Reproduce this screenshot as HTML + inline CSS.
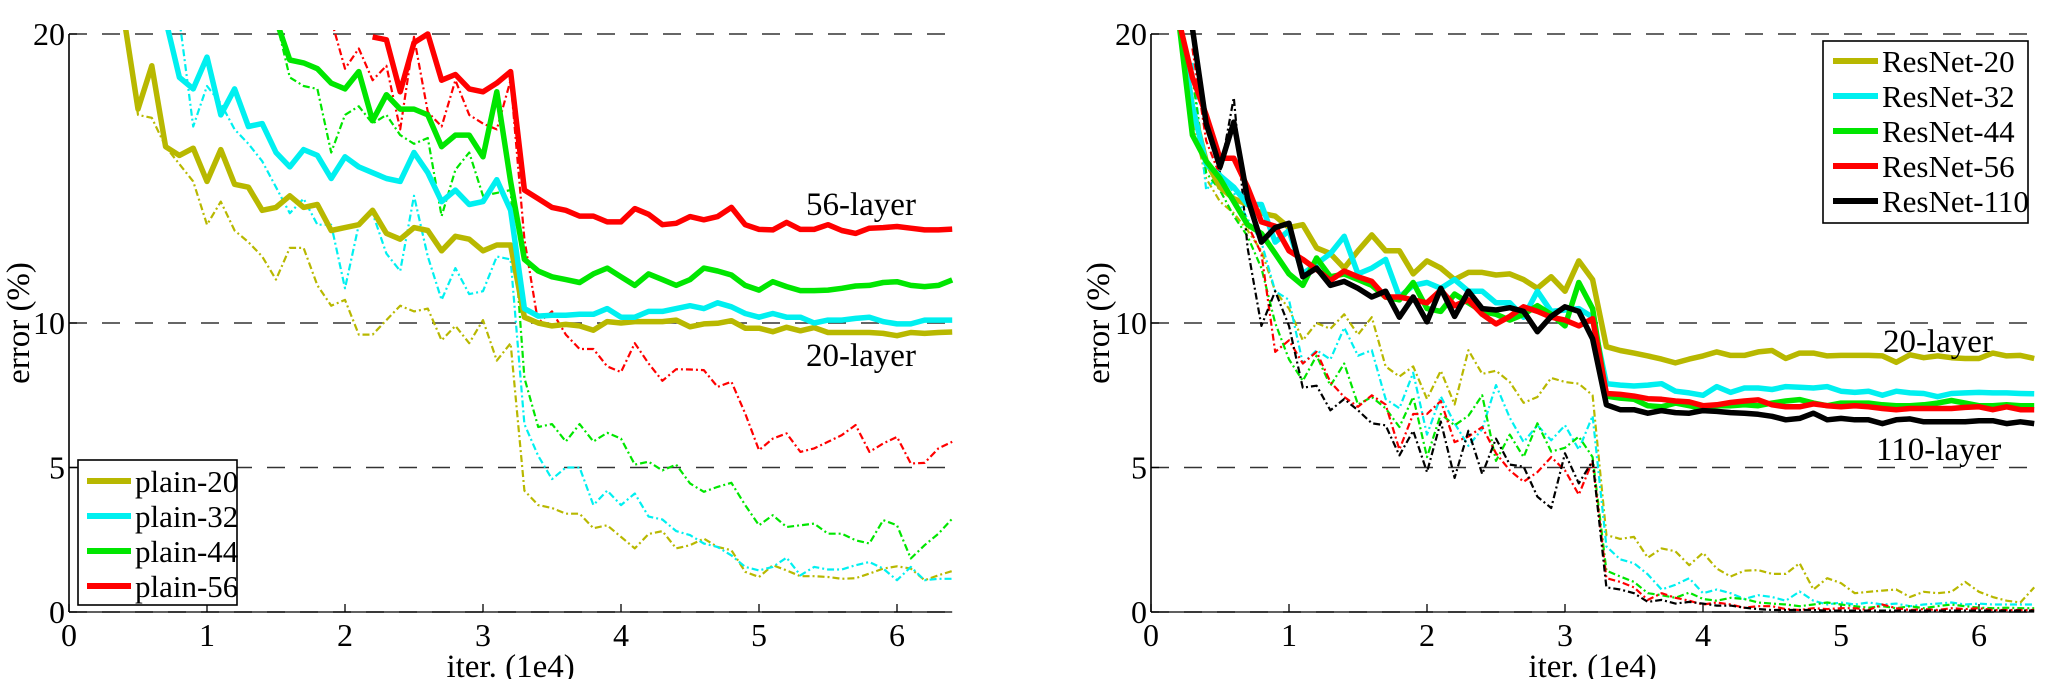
<!DOCTYPE html>
<html><head><meta charset="utf-8"><style>
html,body{margin:0;padding:0;background:#fff;}
svg{display:block;}
svg text{font-family:"Liberation Serif","DejaVu Serif","Times New Roman",Times,serif;}
</style></head><body>
<svg id="fig" width="2048" height="679" viewBox="0 0 2048 679" xmlns="http://www.w3.org/2000/svg"></svg>
<script>
// ---- shared axes data ----
const xTicks = [0,1,2,3,4,5,6];
const yTicks = [0,5,10,20];
const gridVals = [5,10,20];

// ---- left panel (plain) ----
const plainNames = ["plain-20","plain-32","plain-44","plain-56"];
const plainStart = [0.4,0.7,1.5,2.2];
const plain20 = [20.5,17.4,18.9,16.1,15.8,16.05,14.9,16.0,14.8,14.7,13.9,14.0,14.4,14.0,14.1,13.2,13.3,13.4,13.9,13.1,12.9,13.3,13.2,12.5,13.0,12.9,12.5,12.7,12.7,10.2,10.0,9.9,9.95,9.9,9.75,10.05,10.0,10.05,10.05,10.05,10.1,9.87,9.97,9.99,10.08,9.82,9.82,9.7,9.85,9.73,9.84,9.67,9.67,9.67,9.67,9.64,9.56,9.67,9.64,9.67,9.69];
const plain32 = [20.5,18.5,18.1,19.2,17.2,18.1,16.8,16.9,15.9,15.4,16.0,15.8,15.0,15.75,15.4,15.2,15.0,14.9,15.9,15.2,14.2,14.6,14.1,14.2,14.96,13.9,10.5,10.24,10.27,10.27,10.3,10.3,10.5,10.2,10.2,10.4,10.4,10.5,10.6,10.5,10.7,10.56,10.33,10.2,10.33,10.2,10.2,10.0,10.1,10.1,10.16,10.2,10.05,9.97,9.97,10.1,10.1,10.1];
const plain44 = [20.5,19.1,19.0,18.8,18.3,18.1,18.7,17.0,17.9,17.4,17.4,17.2,16.1,16.5,16.5,15.75,18.0,14.9,12.2,11.8,11.6,11.5,11.4,11.7,11.9,11.6,11.3,11.7,11.5,11.3,11.5,11.9,11.8,11.66,11.3,11.14,11.43,11.26,11.12,11.12,11.14,11.2,11.28,11.3,11.4,11.43,11.3,11.26,11.3,11.49];
const plain56 = [19.9,19.8,18.0,19.7,20.0,18.4,18.6,18.1,18.0,18.3,18.7,14.6,14.3,14.0,13.9,13.7,13.7,13.5,13.5,13.96,13.76,13.4,13.45,13.68,13.57,13.68,14.0,13.4,13.24,13.22,13.48,13.24,13.24,13.4,13.2,13.1,13.28,13.3,13.34,13.28,13.22,13.22,13.25];
const plainTStart = [0.4,0.8,1.5,1.9];
const plain20t = [20.5,17.2,17.1,16.1,15.5,14.9,13.4,14.2,13.2,12.8,12.3,11.5,12.6,12.6,11.3,10.6,10.8,9.6,9.6,10.1,10.6,10.4,10.5,9.4,9.9,9.3,10.1,8.7,9.3,4.2,3.7,3.6,3.4,3.4,2.9,3.0,2.6,2.2,2.7,2.8,2.2,2.31,2.54,2.25,2.14,1.39,1.21,1.62,1.44,1.24,1.24,1.21,1.15,1.17,1.33,1.5,1.58,1.5,1.1,1.27,1.42];
const plain32t = [20.5,16.8,18.2,17.6,16.7,16.2,15.6,14.7,13.8,14.3,13.4,13.4,11.2,13.4,13.8,12.4,11.8,14.4,12.3,10.8,11.9,11.0,11.1,12.3,12.2,6.5,5.4,4.6,5.0,5.0,3.7,4.2,3.7,4.1,3.3,3.2,2.8,2.66,2.37,2.25,1.96,1.56,1.44,1.56,1.88,1.27,1.56,1.47,1.47,1.62,1.73,1.5,1.1,1.56,1.1,1.15,1.15];
const plain44t = [20.5,18.5,18.2,18.1,15.9,17.2,17.5,16.9,17.2,16.5,16.2,16.4,13.7,15.3,15.9,14.4,14.5,14.6,8.1,6.4,6.5,5.9,6.5,5.9,6.2,6.0,5.1,5.2,4.9,5.1,4.45,4.16,4.33,4.47,3.7,3.0,3.35,2.94,3.0,3.06,2.71,2.71,2.48,2.37,3.18,3.0,1.85,2.31,2.71,3.23];
const plain56t = [20.5,18.8,19.5,18.4,18.9,16.7,19.9,17.3,16.8,18.4,17.2,16.9,16.7,18.4,12.9,10.0,10.4,9.6,9.1,9.1,8.5,8.3,9.3,8.6,8.0,8.4,8.39,8.37,7.79,7.97,6.87,5.6,6.0,6.18,5.54,5.66,5.89,6.12,6.47,5.54,5.83,6.06,5.14,5.16,5.66,5.89];

// ---- right panel (ResNet) ----
const resNames = ["ResNet-20","ResNet-32","ResNet-44","ResNet-56","ResNet-110"];
const resStart = [0.2,0.2,0.2,0.2,0.3];
const res20 = [20.5,17.5,15.6,14.7,14.3,14.1,13.8,13.7,13.3,13.4,12.6,12.4,11.9,12.5,13.05,12.5,12.5,11.7,12.15,11.9,11.5,11.75,11.75,11.66,11.7,11.5,11.2,11.6,11.1,12.15,11.5,9.18,9.05,8.96,8.86,8.75,8.62,8.75,8.86,9.0,8.88,8.88,9.0,9.05,8.77,8.96,8.96,8.86,8.88,8.88,8.88,8.86,8.64,8.9,8.8,8.86,8.8,8.77,8.77,8.96,8.86,8.88,8.77];
const res32 = [20.5,17.5,15.5,15.1,14.7,14.1,14.1,12.8,13.2,11.7,12.05,12.4,13.0,11.7,11.9,12.2,10.9,11.3,11.4,11.2,11.5,11.1,11.1,10.7,10.7,10.2,11.1,10.4,10.45,10.5,10.2,7.9,7.85,7.82,7.85,7.9,7.64,7.58,7.5,7.8,7.6,7.75,7.75,7.7,7.8,7.78,7.75,7.8,7.64,7.6,7.64,7.5,7.64,7.58,7.56,7.45,7.56,7.58,7.6,7.58,7.58,7.56,7.55];
const res44 = [20.5,16.5,15.6,15.0,14.2,13.4,13.1,12.4,11.7,11.3,12.25,11.6,11.7,11.5,11.3,10.9,10.8,11.4,10.5,10.4,11.0,10.7,10.4,10.3,10.1,10.3,10.6,10.3,9.9,11.4,10.5,7.47,7.4,7.36,7.14,7.1,7.23,7.14,7.04,7.14,7.14,7.17,7.14,7.23,7.3,7.35,7.23,7.14,7.23,7.23,7.23,7.17,7.14,7.14,7.17,7.23,7.32,7.23,7.14,7.14,7.17,7.14,7.14];
const res56 = [20.5,18.5,17.2,15.7,15.7,14.7,13.5,13.35,12.5,12.2,11.85,11.47,11.8,11.6,11.44,10.9,10.9,10.8,10.7,11.14,10.6,10.8,10.3,9.97,10.23,10.56,10.4,10.2,10.1,9.9,10.15,7.56,7.53,7.47,7.38,7.36,7.3,7.27,7.14,7.17,7.25,7.3,7.34,7.17,7.1,7.1,7.2,7.14,7.1,7.14,7.1,7.04,7.0,7.04,7.04,7.04,7.04,7.08,7.1,7.0,7.1,7.0,7.0];
const res110 = [20.2,16.9,15.4,16.95,14.3,12.8,13.3,13.45,11.6,11.9,11.3,11.44,11.2,10.9,11.1,10.2,10.9,10.04,11.2,10.23,11.1,10.5,10.45,10.53,10.4,9.7,10.23,10.56,10.4,9.45,7.17,7.0,7.0,6.88,6.97,6.9,6.88,6.97,6.94,6.9,6.88,6.84,6.77,6.65,6.7,6.88,6.65,6.7,6.65,6.65,6.52,6.65,6.68,6.58,6.58,6.58,6.58,6.62,6.62,6.52,6.58,6.52];
const resTStart = [0.2,0.3,0.3,0.3,0.3];
const res20t = [20.5,17.0,15.0,14.2,13.8,13.2,12.5,11.1,10.5,9.4,10.0,9.8,10.3,9.6,10.2,8.5,8.15,8.5,7.37,8.35,7.18,9.06,8.24,8.35,7.96,7.24,7.44,8.1,7.96,7.9,7.5,2.66,2.53,2.6,1.88,2.2,2.1,1.62,2.05,1.5,1.23,1.43,1.45,1.32,1.32,1.69,0.78,1.17,1.0,0.65,0.7,0.74,0.78,0.52,0.7,0.65,0.7,1.04,0.7,0.52,0.39,0.33,0.85];
const res32t = [19.0,14.6,15.2,14.5,13.6,12.8,11.1,10.8,8.6,9.06,8.74,9.84,8.87,9.06,7.37,7.05,8.28,6.14,7.46,6.53,5.75,6.33,7.85,6.72,5.88,6.46,5.94,6.46,5.62,6.79,2.27,1.82,1.69,1.3,0.78,0.94,1.17,0.65,0.78,0.65,0.45,0.58,0.52,0.39,0.71,0.39,0.26,0.33,0.26,0.33,0.26,0.29,0.2,0.26,0.29,0.33,0.26,0.29,0.26,0.26,0.26,0.26];
const res44t = [18.5,15.2,14.6,13.7,13.0,11.9,10.0,8.74,8.0,8.87,7.83,8.6,7.18,7.44,7.05,6.4,7.44,5.36,6.85,6.46,6.79,7.5,5.23,6.14,5.36,6.53,5.55,5.68,6.07,5.36,1.43,1.23,1.04,0.65,0.58,0.49,0.67,0.45,0.39,0.49,0.45,0.33,0.29,0.26,0.2,0.26,0.33,0.26,0.2,0.15,0.2,0.13,0.2,0.13,0.2,0.26,0.2,0.15,0.13,0.15,0.13,0.13];
const res56t = [19.5,16.3,15.1,14.2,13.4,12.4,9.0,9.4,8.6,9.0,7.96,7.44,7.1,7.5,7.18,5.62,6.85,6.85,7.3,5.88,6.07,6.4,5.49,4.9,4.51,4.84,5.36,4.9,4.06,5.23,1.17,1.04,0.85,0.42,0.65,0.49,0.39,0.26,0.33,0.26,0.15,0.2,0.2,0.1,0.07,0.13,0.1,0.13,0.13,0.07,0.26,0.13,0.07,0.1,0.07,0.13,0.1,0.13,0.07,0.07,0.07,0.07];
const res110t = [20.2,17.1,15.2,17.8,12.6,9.9,11.1,9.9,7.76,7.83,6.98,7.37,6.98,6.53,6.46,5.42,6.27,4.84,6.59,4.64,6.27,4.77,6.0,5.1,5.03,3.99,3.6,5.49,4.45,5.23,0.85,0.78,0.65,0.35,0.42,0.29,0.35,0.29,0.22,0.22,0.15,0.1,0.07,0.07,0.07,0.07,0.05,0.05,0.05,0.05,0.05,0.05,0.05,0.05,0.05,0.05,0.05,0.05,0.05,0.05,0.05,0.05];

const COL = {c20:"#b8b800", c32:"#00f0f0", c44:"#00e600", c56:"#ff0000", c110:"#000000"};
const FONT = '"Liberation Serif","DejaVu Serif","Times New Roman",Times,serif';
const NS = "http://www.w3.org/2000/svg";
const svg = document.getElementById("fig");
function mk(tag, attrs, parent){ const e=document.createElementNS(NS,tag); for(const k in attrs) e.setAttribute(k,attrs[k]); if(tag==="text") e.style.fontFamily=FONT; (parent||svg).appendChild(e); return e; }

function makePanel(id, x0, labelX, legendData, lines, ann){
  const y0 = 612, yTop = 34, xMaxV = 6.4, yMaxV = 20;
  const sx = v => x0 + v*138;
  const sy = v => y0 - v*(y0-yTop)/yMaxV;
  const g = mk("g",{});
  
  
  const clipId = id+"-clip";
  const defs = mk("defs",{},g);
  const cp = mk("clipPath",{id:clipId},defs);
  mk("rect",{x:sx(0),y:yTop-4,width:sx(xMaxV)-sx(0)+2,height:y0-yTop+6},cp);
  gridVals.concat([0]).forEach(v=>{
    const l = mk("line",{x1:sx(0),x2:sx(xMaxV),y1:sy(v),y2:sy(v),stroke:"#333","stroke-width":1.6,"stroke-dasharray":"18 15"},g);
    
    
  });
  const ax = mk("line",{x1:sx(0),x2:sx(0),y1:yTop,y2:y0,stroke:"#000","stroke-width":1.6},g);
  
  
  const bx = mk("line",{x1:sx(0),x2:sx(xMaxV),y1:y0,y2:y0,stroke:"#000","stroke-width":1.2},g);
  
  
  xTicks.forEach(v=>{
    mk("line",{x1:sx(v),x2:sx(v),y1:y0,y2:y0-8,stroke:"#000","stroke-width":1.3},g);
    const t = mk("text",{x:sx(v),y:646,"font-size":32,"text-anchor":"middle"},g);
    t.textContent = v;
    
    
  });
  yTicks.forEach(v=>{
    mk("line",{x1:sx(0),x2:sx(0)+8,y1:sy(v),y2:sy(v),stroke:"#000","stroke-width":1.3},g);
    const t = mk("text",{x:sx(0)-4,y:sy(v)+11,"font-size":32,"text-anchor":"end"},g);
    t.textContent = v;
    
    
  });
  const yl = mk("text",{x:0,y:0,"font-size":33,"text-anchor":"middle",transform:`translate(${labelX},323) rotate(-90)`},g);
  yl.textContent = "error (%)";
  
  
  const xl = mk("text",{x:(sx(0)+sx(xMaxV))/2,y:677,"font-size":33,"text-anchor":"middle"},g);
  xl.textContent = "iter. (1e4)";
  
  
  const sg = mk("g",{"clip-path":`url(#${clipId})`},g);
  lines.forEach(s=>{
    const pts = s.vals.map((v,i)=> sx(s.start + i*0.1).toFixed(1)+","+sy(v).toFixed(1)).join(" ");
    const attrs = {points:pts,fill:"none",stroke:s.color,"stroke-linejoin":"round"};
    if (s.dash){ attrs["stroke-width"]=2.2; attrs["stroke-dasharray"]="7 3 2 3"; }
    else { attrs["stroke-width"]=5.5; }
    const p = mk("polyline",attrs,sg);
    
    
  });
  ann.forEach(a=>{
    const t = mk("text",{x:a.x,y:a.y,"font-size":33,"text-anchor":"start"},g);
    t.textContent = a.text;
    
    
  });
  const L = legendData;
  const lg = mk("g",{},g);
  
  
  mk("rect",{x:L.x,y:L.y,width:L.w,height:L.h,fill:"#fff",stroke:"#000","stroke-width":1.6},lg);
  L.items.forEach((it,i)=>{
    const cy = L.y + L.first + i*L.step;
    const e = mk("g",{},lg);
    
    
    mk("line",{x1:L.lx1,x2:L.lx2,y1:cy,y2:cy,stroke:it.color,"stroke-width":6},e);
    const t = mk("text",{x:L.lx2+4,y:cy+11,"font-size":31},e);
    t.textContent = it.name;
  });
}

makePanel("plain", 69, 29, {
  x:78,y:460,w:159,h:145,first:21,step:35,lx1:87,lx2:131,
  items:[{name:plainNames[0],color:COL.c20},{name:plainNames[1],color:COL.c32},{name:plainNames[2],color:COL.c44},{name:plainNames[3],color:COL.c56}]
},[
  {name:"plain-20-train",vals:plain20t,start:plainTStart[0],color:COL.c20,dash:true},
  {name:"plain-32-train",vals:plain32t,start:plainTStart[1],color:COL.c32,dash:true},
  {name:"plain-44-train",vals:plain44t,start:plainTStart[2],color:COL.c44,dash:true},
  {name:"plain-56-train",vals:plain56t,start:plainTStart[3],color:COL.c56,dash:true},
  {name:"plain-20-test",vals:plain20,start:plainStart[0],color:COL.c20},
  {name:"plain-32-test",vals:plain32,start:plainStart[1],color:COL.c32},
  {name:"plain-44-test",vals:plain44,start:plainStart[2],color:COL.c44},
  {name:"plain-56-test",vals:plain56,start:plainStart[3],color:COL.c56}
],[{text:"56-layer",x:806,y:215},{text:"20-layer",x:806,y:366}]);

makePanel("resnet", 1151, 1109, {
  x:1823,y:41,w:205,h:182,first:20,step:35,lx1:1833,lx2:1878,
  items:resNames.map((n,i)=>({name:n,color:[COL.c20,COL.c32,COL.c44,COL.c56,COL.c110][i]}))
},[
  {name:"resnet-20-train",vals:res20t,start:resTStart[0],color:COL.c20,dash:true},
  {name:"resnet-32-train",vals:res32t,start:resTStart[1],color:COL.c32,dash:true},
  {name:"resnet-44-train",vals:res44t,start:resTStart[2],color:COL.c44,dash:true},
  {name:"resnet-56-train",vals:res56t,start:resTStart[3],color:COL.c56,dash:true},
  {name:"resnet-110-train",vals:res110t,start:resTStart[4],color:COL.c110,dash:true},
  {name:"resnet-20-test",vals:res20,start:resStart[0],color:COL.c20},
  {name:"resnet-32-test",vals:res32,start:resStart[1],color:COL.c32},
  {name:"resnet-44-test",vals:res44,start:resStart[2],color:COL.c44},
  {name:"resnet-56-test",vals:res56,start:resStart[3],color:COL.c56},
  {name:"resnet-110-test",vals:res110,start:resStart[4],color:COL.c110}
],[{text:"20-layer",x:1883,y:352},{text:"110-layer",x:1876,y:460}]);
</script>
</body></html>
